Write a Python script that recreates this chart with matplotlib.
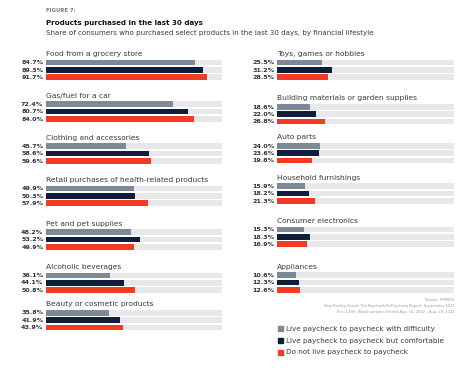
import numpy as np
import matplotlib
matplotlib.use("Agg")
from matplotlib import pyplot as plt

# data
left_cats = ["Food from a grocery store", "Gas/fuel for a car", "Clothing and accessories",
             "Retail purchases of health-related products", "Pet and pet supplies",
             "Alcoholic beverages", "Beauty or cosmetic products"]
left_difficulty = [84.7, 72.4, 45.7, 49.9, 48.2, 36.1, 35.8]
left_comfortable = [89.3, 80.7, 58.6, 50.3, 53.2, 44.1, 41.9]
left_not = [91.7, 84.0, 59.6, 57.9, 49.9, 50.8, 43.9]

right_cats = ["Toys, games or hobbies", "Building materials or garden supplies", "Auto parts",
              "Household furnishings", "Consumer electronics", "Appliances"]
right_difficulty = [25.5, 18.6, 24.0, 15.9, 15.3, 10.6]
right_comfortable = [31.2, 22.0, 23.6, 18.2, 18.3, 12.3]
right_not = [28.5, 26.8, 19.8, 21.3, 16.9, 12.6]

series_names = ["Live paycheck to paycheck with difficulty",
                "Live paycheck to paycheck but comfortable",
                "Do not live paycheck to paycheck"]
colors = ["#7d8898", "#0e1e3b", "#f23b22"]
track = "#e8e8ea"

W, H = 469, 389
fig = plt.figure(figsize=(W / 100, H / 100), dpi=100)
fig.patch.set_facecolor("white")

# group first-bar positions in pixels (layout)
left_pos = [62.3, 104, 146, 188.3, 232, 275.3, 312.7]
right_pos = [62.3, 106.7, 145.7, 186, 229.3, 275]
step = 7.4
bh = 5.6


def panel(x0, x1, cats, vals, pos):
    ax = fig.add_axes([x0 / W, 0, (x1 - x0) / W, 1])
    ax.set_xlim(0, 100)
    ax.set_ylim(H, 0)
    ax.axis("off")
    for g, cat in enumerate(cats):
        ys = [pos[g] + k * step for k in range(3)]
        ax.barh(ys, [100] * 3, height=bh, color=track, left=0)
        for k in range(3):
            v = vals[k][g]
            ax.barh(ys[k], v, height=bh, color=colors[k])
            ax.text(-1.5, ys[k] + 0.3, f"{v:.1f}%", ha="right", va="center",
                    fontsize=4.6, fontweight="bold", color="#333333")
        ax.text(0, pos[g] - 8.3, cat, ha="left", va="center", fontsize=5.4,
                color="#3a3a3a")
    return ax


panel(46, 222, left_cats, [left_difficulty, left_comfortable, left_not], left_pos)
axr = panel(277.3, 454, right_cats, [right_difficulty, right_comfortable, right_not], right_pos)

# header
fig.text(46 / W, 1 - 11 / H, "FIGURE 7:", fontsize=3.8, fontweight="bold", color="#777777",
         va="center")
fig.text(46 / W, 1 - 23.5 / H, "Products purchased in the last 30 days", fontsize=5.1,
         fontweight="bold", color="#111111", va="center")
fig.text(46 / W, 1 - 33 / H,
         "Share of consumers who purchased select products in the last 30 days, by financial lifestyle",
         fontsize=5.15, color="#3a3a3a", va="center")

# source
src = ["Source: PYMNTS",
       "New Reality Check: The Paycheck-To-Paycheck Report, September 2022",
       "N = 3,495: Whole sample, fielded Aug. 10, 2022 \u2013 Aug. 29, 2022"]
for i, s in enumerate(src):
    fig.text(454 / W, 1 - (300 + i * 5.8) / H, s, fontsize=2.6, color="#9a9a9a",
             ha="right", va="center")

# legend
for i, name in enumerate(series_names):
    y = 328.7 + i * 11.8
    axr.add_patch(matplotlib.patches.Rectangle((0.5, y - 2.6), 3.0, 5.2, color=colors[i],
                                               clip_on=False))
    axr.text(5, y, name, fontsize=5.2, color="#3a3a3a", va="center")

fig.savefig("out.png", dpi=100, facecolor="white")
